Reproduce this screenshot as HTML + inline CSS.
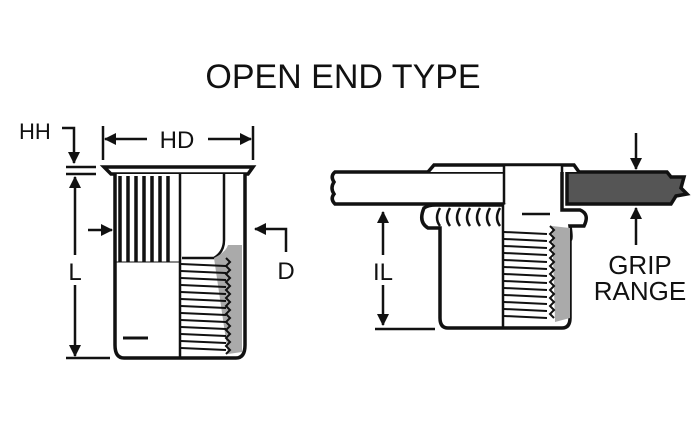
<!DOCTYPE html>
<html><head><style>html,body{margin:0;padding:0;background:#fff}svg{display:block}text{font-family:"Liberation Sans",sans-serif;fill:#111}</style></head>
<body>
<svg width="700" height="426" viewBox="0 0 700 426" xmlns="http://www.w3.org/2000/svg">
<defs>
<marker id="a" markerWidth="12" markerHeight="12" refX="11" refY="6" orient="auto" markerUnits="userSpaceOnUse"><path d="M0,0 L12,6 L0,12 z" fill="#111"/></marker>
</defs>
<text x="343" y="88" font-size="34" text-anchor="middle">OPEN END TYPE</text>
<g stroke="#111" stroke-width="2.5" fill="none">
<!-- left rivet -->
<path d="M104,167 H253 L248,174 H111 Z" fill="#fff" stroke-width="3.5"/>
<path d="M115,174 V345 Q115,358 124,358 H236 Q245,358 245,345 V174" fill="#fff" stroke-width="3.5"/>
<line x1="180" y1="173" x2="180" y2="358"/>
<path d="M224,174 V240 Q224,252 214,258 H182" />
<path d="M214,258 Q226,252 228,245 L242,245 V352 L228,354 Z" fill="#aaa" stroke="none"/>
<g stroke-width="3.5">
<line x1="120" y1="176" x2="120" y2="262"/><line x1="128" y1="176" x2="128" y2="262"/><line x1="136" y1="176" x2="136" y2="262"/><line x1="144" y1="176" x2="144" y2="262"/><line x1="152" y1="176" x2="152" y2="262"/><line x1="160" y1="176" x2="160" y2="262"/><line x1="168" y1="176" x2="168" y2="262"/>
</g>
<line x1="116" y1="262" x2="180" y2="262" stroke-width="1"/>
<line x1="123" y1="338" x2="148" y2="338" stroke-width="3"/>
<g stroke-width="2">
<line x1="181" y1="264" x2="226" y2="266"/><line x1="181" y1="271" x2="226" y2="273"/><line x1="181" y1="278" x2="226" y2="280"/><line x1="181" y1="285" x2="226" y2="287"/><line x1="181" y1="292" x2="226" y2="294"/><line x1="181" y1="299" x2="226" y2="301"/><line x1="181" y1="306" x2="226" y2="308"/><line x1="181" y1="313" x2="226" y2="315"/><line x1="181" y1="320" x2="226" y2="322"/><line x1="181" y1="327" x2="226" y2="329"/><line x1="181" y1="334" x2="226" y2="336"/><line x1="181" y1="341" x2="226" y2="343"/><line x1="181" y1="348" x2="226" y2="350"/>
</g>
<path d="M226,258 l4,4 -4,4 4,4 -4,4 4,4 -4,4 4,4 -4,4 4,4 -4,4 4,4 -4,4 4,4 -4,4 4,4 -4,4 4,4 -4,4 4,4 -4,4 4,4 -4,4 4,4 -4,4" stroke-width="2"/>
<!-- dims left -->
<line x1="103" y1="126" x2="103" y2="160"/><line x1="253" y1="126" x2="253" y2="160"/>
<line x1="147" y1="139" x2="105" y2="139" marker-end="url(#a)"/>
<line x1="208" y1="139" x2="251" y2="139" marker-end="url(#a)"/>
<path d="M62,128 H74 V163" marker-end="url(#a)"/>
<line x1="66" y1="167" x2="96" y2="167"/><line x1="66" y1="174" x2="96" y2="174"/>
<line x1="75" y1="255" x2="75" y2="177" marker-end="url(#a)"/>
<line x1="75" y1="285" x2="75" y2="356" marker-end="url(#a)"/>
<line x1="66" y1="358" x2="110" y2="358"/>
<line x1="88" y1="230" x2="112" y2="230" marker-end="url(#a)"/>
<path d="M286,252 V229 H255" marker-end="url(#a)"/>
<!-- right: plates -->
<path d="M335,172 H505 V204 H335 Q330,199 334,194 Q330,188 334,182 Q330,176 335,172 Z" fill="#fff" stroke-width="3.5"/>
<path d="M567,172 H667 L671,177 H684 L681,188 L687,194 L676,196 L671,204 H567 Z" fill="#555" stroke-width="3.5"/>
<!-- rivet -->
<path d="M428,172 L434,165 H574 L579,172" fill="#fff" stroke-width="3.5"/>
<rect x="504" y="165" width="58" height="40" fill="#fff" stroke-width="2.5"/>
<path d="M562,172 V210 H580 Q590,214 584,226 H570 Q572,240 570,240 V318 Q570,328 562,328 H448 Q440,328 440,318 V228 H428 Q418,222 424,208 Q428,205 436,205 H504" fill="#fff" stroke-width="3.5"/>
<path d="M436,208 H504 V226 H436 Z" fill="#fff" stroke="none"/>
<g stroke-width="2.5">
<path d="M440,208 q-6,10 0,18"/><path d="M450,208 q-6,10 0,18"/><path d="M460,208 q-6,10 0,18"/><path d="M470,208 q-6,10 0,18"/><path d="M480,208 q-6,10 0,18"/><path d="M490,208 q-6,10 0,18"/><path d="M500,208 q-6,10 0,18"/>
</g>
<line x1="503" y1="205" x2="503" y2="328"/>
<line x1="522" y1="214" x2="550" y2="214"/>
<path d="M552,226 L570,228 V318 L555,322 Z" fill="#aaa" stroke="none"/>
<g stroke-width="2">
<line x1="504" y1="232" x2="547" y2="234"/><line x1="504" y1="239" x2="547" y2="241"/><line x1="504" y1="246" x2="547" y2="248"/><line x1="504" y1="253" x2="547" y2="255"/><line x1="504" y1="260" x2="547" y2="262"/><line x1="504" y1="267" x2="547" y2="269"/><line x1="504" y1="274" x2="547" y2="276"/><line x1="504" y1="281" x2="547" y2="283"/><line x1="504" y1="288" x2="547" y2="290"/><line x1="504" y1="295" x2="547" y2="297"/><line x1="504" y1="302" x2="547" y2="304"/><line x1="504" y1="309" x2="547" y2="311"/><line x1="504" y1="316" x2="547" y2="318"/>
</g>
<path d="M550,226 l4,4 -4,4 4,4 -4,4 4,4 -4,4 4,4 -4,4 4,4 -4,4 4,4 -4,4 4,4 -4,4 4,4 -4,4 4,4 -4,4 4,4 -4,4 4,4 -4,4 4,4" stroke-width="2"/>
<!-- dims right -->
<line x1="383" y1="255" x2="383" y2="212" marker-end="url(#a)"/>
<line x1="383" y1="285" x2="383" y2="325" marker-end="url(#a)"/>
<line x1="375" y1="329" x2="435" y2="329"/>
<line x1="636" y1="133" x2="636" y2="169" marker-end="url(#a)"/>
<line x1="636" y1="245" x2="636" y2="208" marker-end="url(#a)"/>
</g>
<text x="19" y="139" font-size="22">HH</text>
<text x="177" y="148" font-size="24" text-anchor="middle">HD</text>
<text x="75" y="280" font-size="24" text-anchor="middle">L</text>
<text x="286" y="279" font-size="24" text-anchor="middle">D</text>
<text x="383" y="280" font-size="24" text-anchor="middle">IL</text>
<text x="640" y="274" font-size="26" text-anchor="middle">GRIP</text>
<text x="640" y="300" font-size="26" text-anchor="middle">RANGE</text>
</svg>
</body></html>
